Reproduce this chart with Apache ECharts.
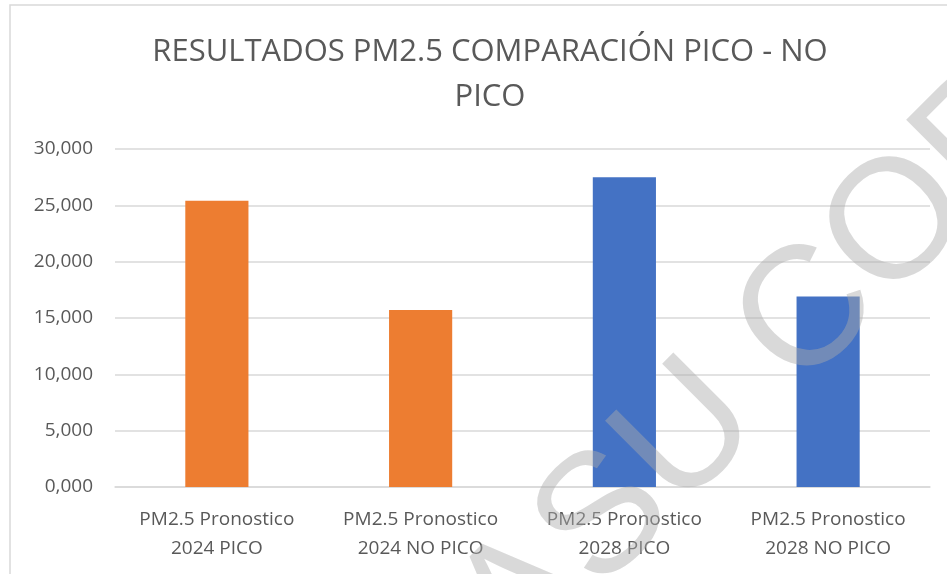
<!DOCTYPE html>
<html lang="es">
<head>
    <meta charset="UTF-8">
    <title>Resultados PM2.5</title>
    <script type="text/javascript" src="https://cdn.jsdelivr.net/npm/echarts@6/dist/echarts.min.js"></script>
    <style>
        html, body { margin: 0; padding: 0; background: #fff; }
    </style>
</head>
<body>
<div id="main" style="width: 947px; height: 574px;"></div>
<script type="text/javascript">
    "use strict"
    var font = '"Open Sans", sans-serif';

    var categories = [
        'PM2.5 Pronostico\n2024 PICO',
        'PM2.5 Pronostico\n2024 NO PICO',
        'PM2.5 Pronostico\n2028 PICO',
        'PM2.5 Pronostico\n2028 NO PICO'
    ];
    var values = [25.4, 15.7, 27.5, 16.9];
    var barColors = ['#ED7D31', '#ED7D31', '#4472C4', '#4472C4'];

    var myChart = echarts.init(document.getElementById('main'));

    var option = {
        animation: false,
        title: {
            text: 'RESULTADOS PM2.5 COMPARACIÓN PICO - NO\nPICO',
            left: 485,
            textAlign: 'center',
            top: 25,
            textStyle: {
                fontFamily: font,
                fontSize: 31,
                fontWeight: 'normal',
                color: '#595959',
                lineHeight: 45
            }
        },
        grid: { left: 115, right: 17, top: 149, bottom: 87 },
        xAxis: {
            type: 'category',
            data: categories,
            axisTick: { show: false },
            axisLine: { lineStyle: { color: '#d9d9d9', width: 1.5 } },
            axisLabel: {
                color: '#595959',
                fontFamily: font,
                fontSize: 19,
                lineHeight: 29,
                margin: 18
            }
        },
        yAxis: {
            type: 'value',
            min: 0,
            max: 30,
            interval: 5,
            axisLine: { show: false },
            axisTick: { show: false },
            splitLine: { lineStyle: { color: '#d9d9d9', width: 1.5 } },
            axisLabel: {
                color: '#595959',
                fontFamily: font,
                fontSize: 19,
                margin: 22,
                formatter: function (v) {
                    return v.toFixed(3).replace('.', ',');
                }
            }
        },
        series: [{
            type: 'bar',
            barWidth: '31%',
            data: values.map(function (v, i) {
                return { value: v, itemStyle: { color: barColors[i] } };
            })
        }],
        graphic: [
            {
                type: 'rect',
                shape: { x: 10, y: 5, width: 960, height: 600 },
                style: { fill: 'none', stroke: '#d9d9d9', lineWidth: 1.5 },
                silent: true
            },
            {
                // marca de agua diagonal
                type: 'text',
                x: 485,
                y: 640,
                rotation: Math.PI / 4,
                z: 100,
                silent: true,
                style: {
                    text: 'ASU COPIA',
                    fontFamily: '"Liberation Sans", sans-serif',
                    fontSize: 170,
                    fill: 'rgba(170,170,170,0.45)',
                    textAlign: 'left',
                    textVerticalAlign: 'middle'
                }
            }
        ]
    };

    myChart.setOption(option);
</script>
</body>
</html>
